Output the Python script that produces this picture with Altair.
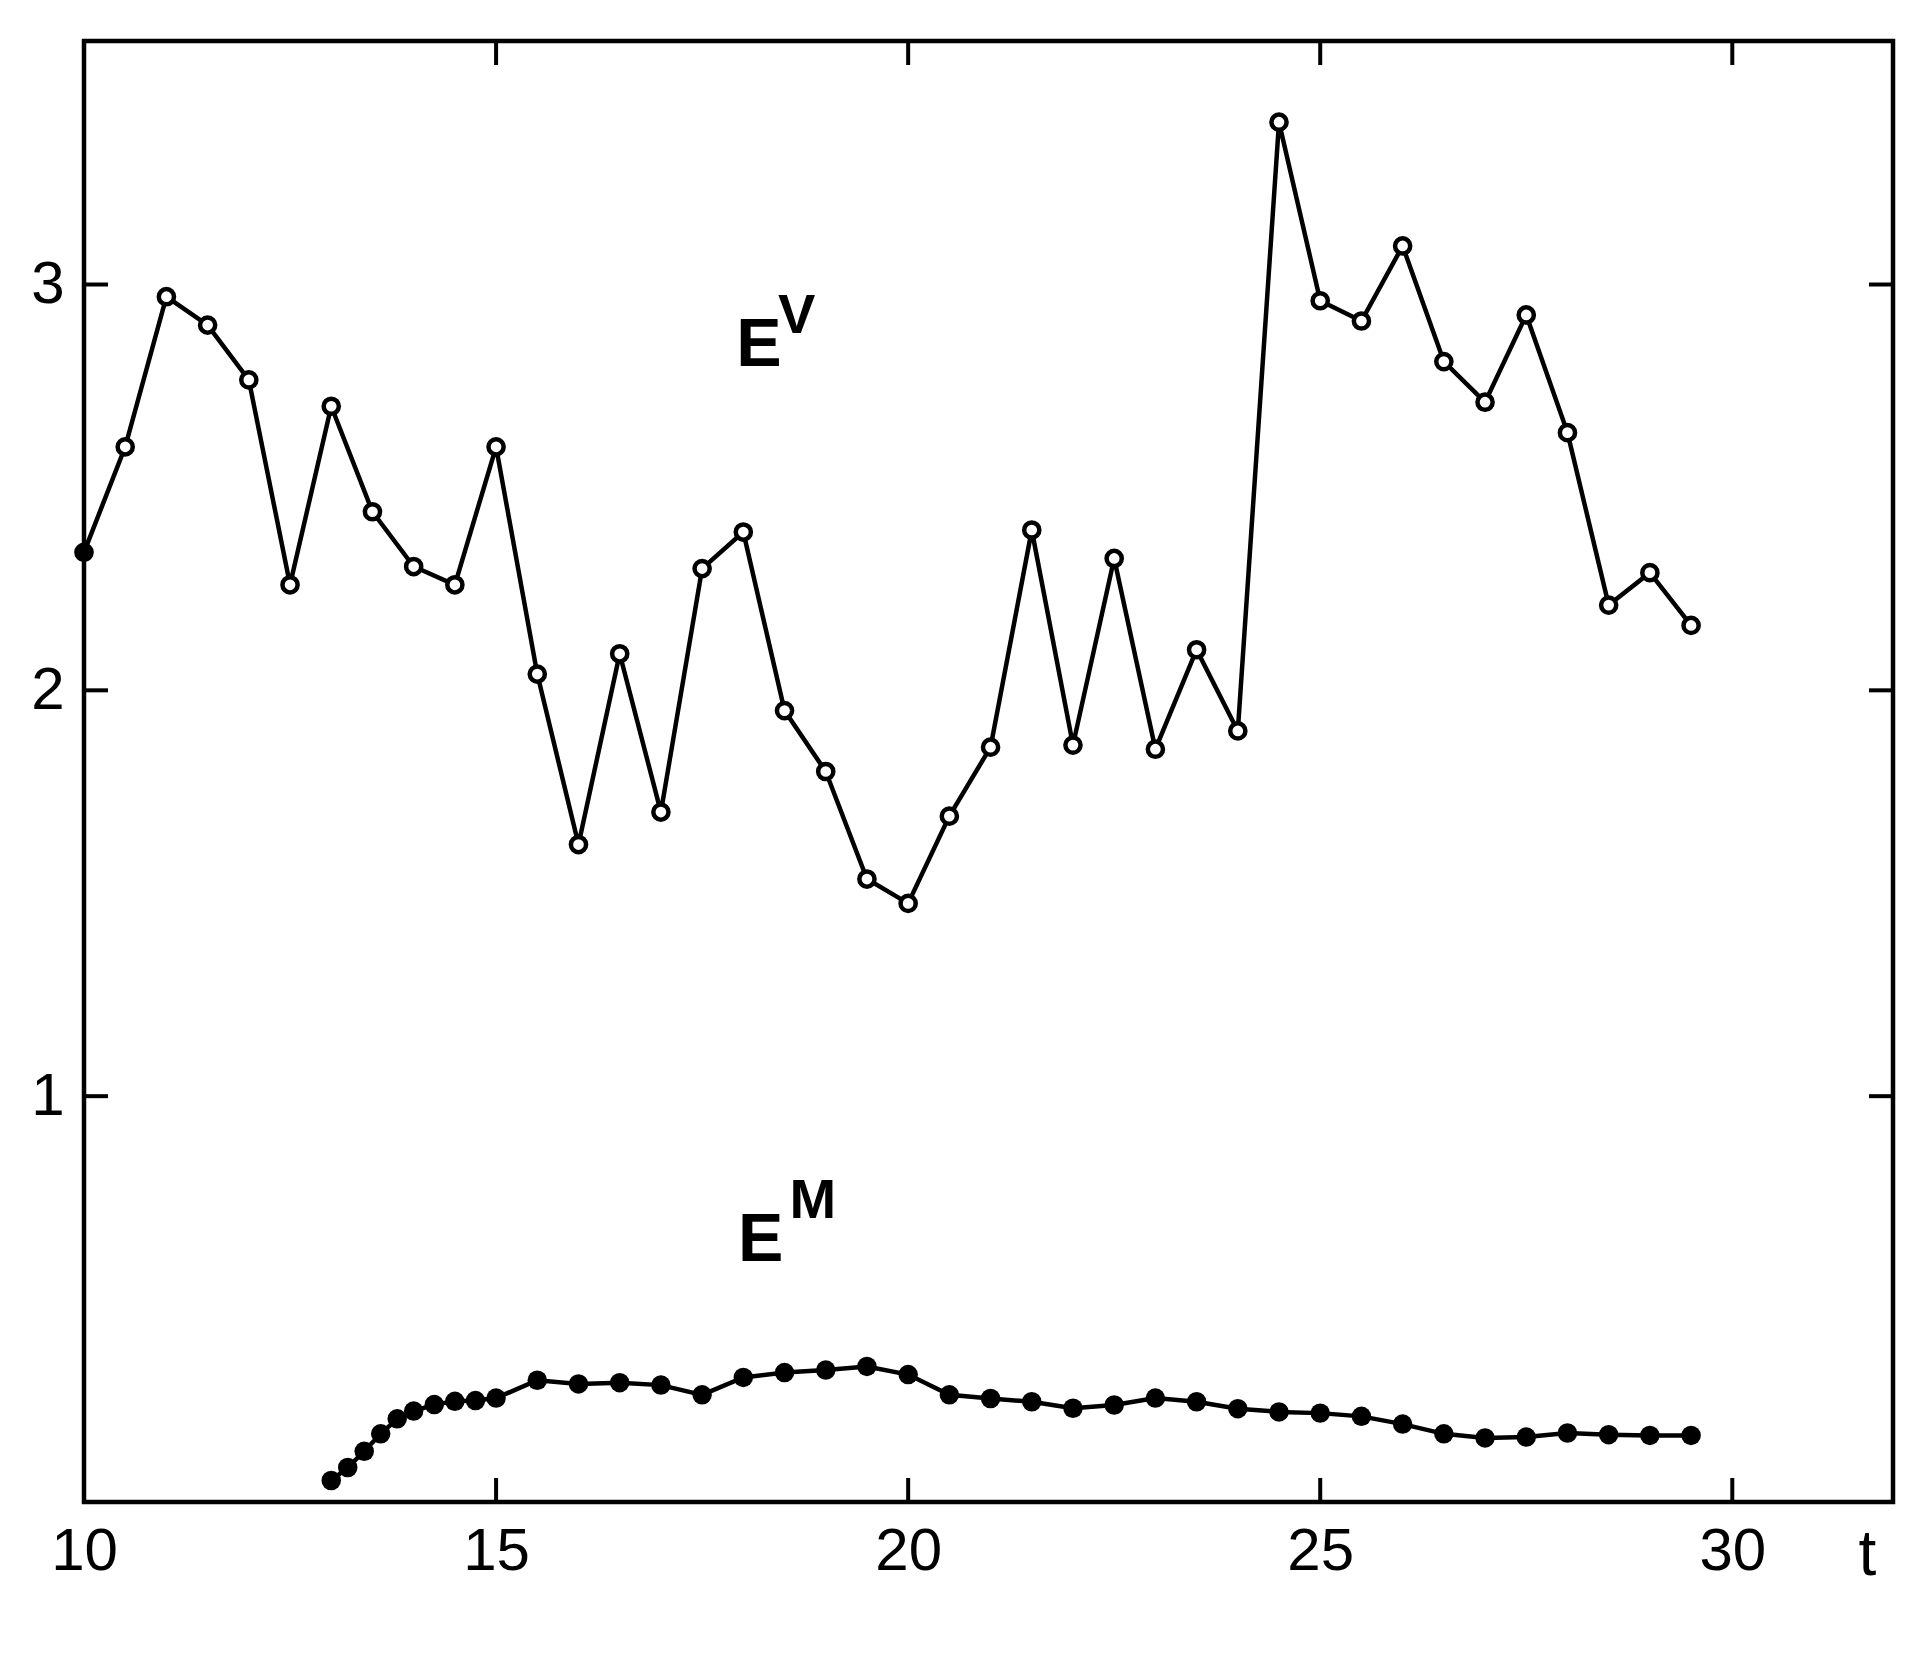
import altair as alt
import pandas as pd

# ---- data ----
ev_t = [10.0, 10.5, 11.0, 11.5, 12.0, 12.5, 13.0, 13.5, 14.0, 14.5,
        15.0, 15.5, 16.0, 16.5, 17.0, 17.5, 18.0, 18.5, 19.0, 19.5,
        20.0, 20.5, 21.0, 21.5, 22.0, 22.5, 23.0, 23.5, 24.0, 24.5,
        25.0, 25.5, 26.0, 26.5, 27.0, 27.5, 28.0, 28.5, 29.0, 29.5]
ev_v = [2.34, 2.60, 2.97, 2.90, 2.765, 2.26, 2.70, 2.44, 2.305, 2.26,
        2.60, 2.04, 1.62, 2.09, 1.70, 2.30, 2.39, 1.95, 1.80, 1.535,
        1.475, 1.69, 1.86, 2.395, 1.865, 2.325, 1.855, 2.10, 1.90, 3.40,
        2.96, 2.91, 3.095, 2.81, 2.71, 2.925, 2.635, 2.21, 2.29, 2.16]

em_t = [13.0, 13.2, 13.4, 13.6, 13.8, 14.0, 14.25, 14.5, 14.75, 15.0,
        15.5, 16.0, 16.5, 17.0, 17.5, 18.0, 18.5, 19.0, 19.5, 20.0,
        20.5, 21.0, 21.5, 22.0, 22.5, 23.0, 23.5, 24.0, 24.5, 25.0,
        25.5, 26.0, 26.5, 27.0, 27.5, 28.0, 28.5, 29.0, 29.5]
em_v = [0.053, 0.085, 0.125, 0.168, 0.205, 0.224, 0.240, 0.248, 0.250, 0.256,
        0.300, 0.291, 0.294, 0.288, 0.264, 0.307, 0.319, 0.325, 0.334, 0.314,
        0.264, 0.255, 0.247, 0.231, 0.239, 0.256, 0.247, 0.230, 0.222, 0.219,
        0.211, 0.192, 0.168, 0.158, 0.160, 0.170, 0.166, 0.164, 0.164]

x_labels = [10, 15, 20, 25, 30]
x_ticks = [15, 20, 25, 30]
y_ticks = [1, 2, 3]

label_main = ["E", "E"]
label_main_t = [18.19, 18.21]
label_main_v = [2.80, 0.594]
label_sup = ["V", "M"]
label_sup_t = [18.42, 18.56]
label_sup_v = [2.88, 0.70]

# ---- layout ----
W, H = 1809, 1461
TICK = 24
LABEL_FONT = "Liberation Sans, Arial, sans-serif"

ev_df = pd.DataFrame({"t": ev_t, "v": ev_v})
em_df = pd.DataFrame({"t": em_t, "v": em_v})
xt_df = pd.DataFrame({"t": x_ticks})
yt_df = pd.DataFrame({"v": y_ticks})
lab_df = pd.DataFrame({"t": label_main_t, "v": label_main_v, "txt": label_main})
sup_df = pd.DataFrame({"t": label_sup_t, "v": label_sup_v, "txt": label_sup})

xscale = alt.Scale(domain=[10, 31.95], nice=False, zero=False)
yscale = alt.Scale(domain=[0, 3.6], nice=False, zero=False)

xaxis = alt.Axis(values=x_labels, domain=False, ticks=False, tickSize=0, grid=False,
                 labelFont=LABEL_FONT, labelFontSize=60, labelFontWeight="normal",
                 labelColor="black", labelPadding=20, format="d", labelFlush=False,
                 title="t", titleFont=LABEL_FONT, titleFontSize=64,
                 titleFontWeight="normal", titleColor="black",
                 titleX=1783, titleY=72, titleAnchor="start", titleAlign="center",
                 titleBaseline="alphabetic", titleAngle=0)
yaxis = alt.Axis(values=y_ticks, domain=False, ticks=False, tickSize=0, grid=False,
                 labelFont=LABEL_FONT, labelFontSize=60, labelFontWeight="normal",
                 labelColor="black", labelPadding=20, format="d", title=None)

X = alt.X("t:Q", scale=xscale, axis=xaxis)
Y = alt.Y("v:Q", scale=yscale, axis=yaxis)

ev_line = alt.Chart(ev_df).mark_line(color="black", strokeWidth=4.5).encode(x=X, y=Y)
ev_pts = alt.Chart(ev_df).mark_point(shape="circle", filled=True, stroke="black",
                                     strokeWidth=4.5, size=230, opacity=1).encode(
    x=X, y=Y,
    fill=alt.condition("datum.t == 10", alt.value("black"), alt.value("white")))

em_line = alt.Chart(em_df).mark_line(color="black", strokeWidth=4.5).encode(x=X, y=Y)
em_pts = alt.Chart(em_df).mark_point(shape="circle", filled=True, color="black",
                                     size=380, opacity=1).encode(x=X, y=Y)

bot_ticks = alt.Chart(xt_df).mark_rule(color="black", strokeWidth=4).encode(
    x=X, y=alt.value(H - TICK), y2=alt.value(H))
top_ticks = alt.Chart(xt_df).mark_rule(color="black", strokeWidth=4).encode(
    x=X, y=alt.value(0), y2=alt.value(TICK))
left_ticks = alt.Chart(yt_df).mark_rule(color="black", strokeWidth=4).encode(
    y=Y, x=alt.value(0), x2=alt.value(TICK))
right_ticks = alt.Chart(yt_df).mark_rule(color="black", strokeWidth=4).encode(
    y=Y, x=alt.value(W - TICK), x2=alt.value(W))

lab = alt.Chart(lab_df).mark_text(font="Liberation Sans", fontWeight="bold", fontSize=68,
                                  color="black", align="center", baseline="alphabetic").encode(
    x=X, y=Y, text="txt:N")
sup = alt.Chart(sup_df).mark_text(font="Liberation Sans", fontWeight="bold", fontSize=56,
                                  color="black", align="left", baseline="alphabetic").encode(
    x=X, y=Y, text="txt:N")

chart = alt.layer(
    bot_ticks, top_ticks, left_ticks, right_ticks,
    ev_line, ev_pts, em_line, em_pts, lab, sup
).properties(
    width=W, height=H,
    autosize=alt.AutoSizeParams(type="none"),
    padding={"left": 84, "top": 41, "right": 37, "bottom": 159},
    background="white",
).configure_view(
    stroke="black", strokeWidth=4.5
)

chart.save("out.html", embed_options={"renderer": "svg", "actions": False})
